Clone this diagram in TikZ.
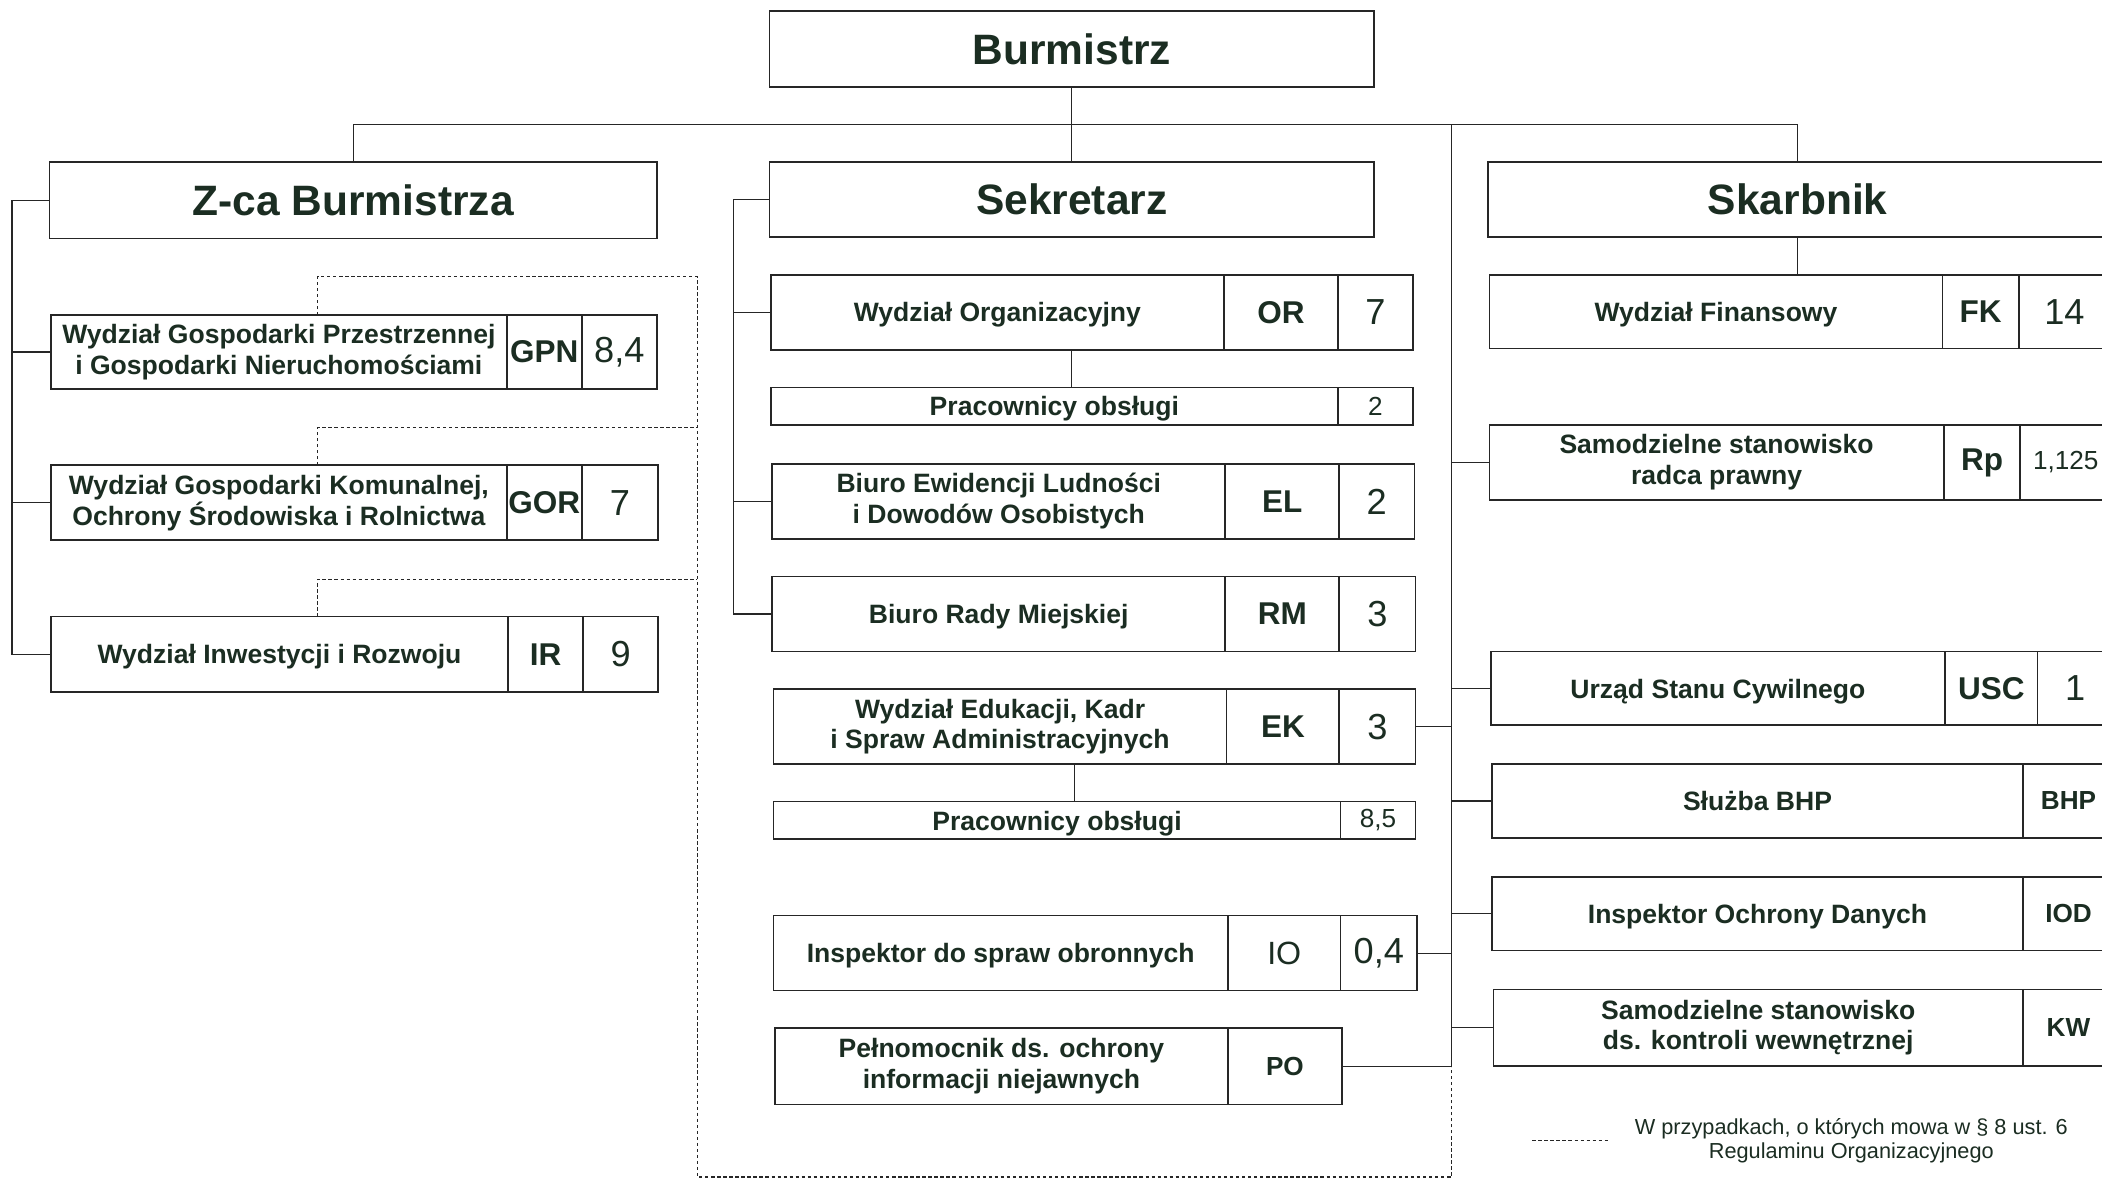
\documentclass[tikz,border=0pt]{standalone}
\usepackage{fontspec}
\setmainfont{Liberation Sans}
\usetikzlibrary{calc}
\definecolor{ink}{HTML}{1B2D22}
\definecolor{rulec}{HTML}{262626}
\begin{document}
\begin{tikzpicture}[x=1pt,y=-1pt,
  box/.style={draw=rulec, line width=1.2pt, inner sep=0pt, outer sep=0pt, anchor=north west, align=center, text=ink},
  head/.style={box, font=\fontsize{31.7}{36}\selectfont\bfseries},
  lbl/.style={box, font=\fontsize{19.8}{23}\selectfont\bfseries},
  one/.style={lbl, text depth=0pt},
  code/.style={box, font=\fontsize{23.5}{26}\selectfont\bfseries},
  rcode/.style={box, font=\fontsize{24}{26}\selectfont},
  scode/.style={box, font=\fontsize{19.5}{22}\selectfont\bfseries},
  num/.style={box, font=\fontsize{27}{30}\selectfont},
  snum/.style={box, font=\fontsize{19.5}{22}\selectfont},
  link/.style={draw=rulec, line width=0.9pt},
  dots/.style={draw=rulec, line width=0.8pt, dash pattern=on 2.5pt off 2pt},
]
\useasboundingbox (0,0) rectangle (1568,879);
\fill[white] (0,0) rectangle (1568,879);
\clip (0,0) rectangle (1568,879);

% ---------- coordinates ----------
\coordinate (hub) at (800,93);
\coordinate (rtop) at (1083,93);
\coordinate (rmid) at (1083,796);
\coordinate (dcol) at (237,0);
\coordinate (d1) at (520,206);
\coordinate (d2) at (520,319);
\coordinate (d3) at (520,432);
\coordinate (dbl) at (520,878);
\coordinate (dbr) at (1083,878);
\coordinate (lg1) at (1143,851);
\coordinate (lg2) at (1200,851);

% ---------- top level ----------
\node[head, minimum width=451pt, minimum height=57pt] (bur) at (574,8) {Burmistrz};
\node[head, minimum width=453pt, minimum height=57pt] (zca) at (37,121) {Z-ca Burmistrza};
\node[head, minimum width=451pt, minimum height=56pt] (sek) at (574,121) {Sekretarz};
\node[head, minimum width=462pt, minimum height=56pt] (skb) at (1110,121) {Skarbnik};

% ---------- Z-ca column ----------
\node[lbl, minimum width=340pt, minimum height=55pt] (gpn) at (38,235) {Wydział Gospodarki Przestrzennej\\i Gospodarki Nieruchomościami};
\node[code, minimum width=56pt, minimum height=55pt] (gpnc) at (gpn.north east) {GPN};
\node[num, minimum width=56pt, minimum height=55pt] (gpnn) at (gpnc.north east) {8,4};

\node[lbl, minimum width=340pt, minimum height=56pt] (gor) at (38,347) {Wydział Gospodarki Komunalnej,\\Ochrony Środowiska i Rolnictwa};
\node[code, minimum width=56pt, minimum height=56pt] (gorc) at (gor.north east) {GOR};
\node[num, minimum width=57pt, minimum height=56pt] (gorn) at (gorc.north east) {7};

\node[one, minimum width=341pt, minimum height=56pt] (ir) at (38,460) {Wydział Inwestycji i Rozwoju};
\node[code, minimum width=56pt, minimum height=56pt] (irc) at (ir.north east) {IR};
\node[num, minimum width=56pt, minimum height=56pt] (irn) at (irc.north east) {9};

% ---------- Sekretarz column ----------
\node[one, minimum width=338pt, minimum height=56pt] (or) at (575,205) {Wydział Organizacyjny};
\node[code, minimum width=85pt, minimum height=56pt] (orc) at (or.north east) {OR};
\node[num, minimum width=56pt, minimum height=56pt] (orn) at (orc.north east) {7};

\node[one, minimum width=423pt, minimum height=28pt] (pra) at (575,289) {Pracownicy obsługi};
\node[snum, minimum width=56pt, minimum height=28pt] (pran) at (pra.north east) {2};

\node[lbl, minimum width=338pt, minimum height=56pt] (el) at (576,346) {Biuro Ewidencji Ludności\\i Dowodów Osobistych};
\node[code, minimum width=85pt, minimum height=56pt] (elc) at (el.north east) {EL};
\node[num, minimum width=56pt, minimum height=56pt] (eln) at (elc.north east) {2};

\node[one, minimum width=338pt, minimum height=56pt] (rm) at (576,430) {Biuro Rady Miejskiej};
\node[code, minimum width=85pt, minimum height=56pt] (rmc) at (rm.north east) {RM};
\node[num, minimum width=57pt, minimum height=56pt] (rmn) at (rmc.north east) {3};

\node[lbl, minimum width=338pt, minimum height=56pt] (ek) at (577,514) {Wydział Edukacji, Kadr\\i Spraw Administracyjnych};
\node[code, minimum width=84pt, minimum height=56pt] (ekc) at (ek.north east) {EK};
\node[num, minimum width=57pt, minimum height=56pt] (ekn) at (ekc.north east) {3};

\node[one, minimum width=423pt, minimum height=28pt] (prb) at (577,598) {Pracownicy obsługi};
\node[snum, minimum width=56pt, minimum height=28pt] (prbn) at (prb.north east) {8,5};

\node[one, minimum width=339pt, minimum height=56pt] (io) at (577,683) {Inspektor do spraw obronnych};
\node[rcode, minimum width=84pt, minimum height=56pt] (ioc) at (io.north east) {IO};
\node[num, minimum width=57pt, minimum height=56pt] (ion) at (ioc.north east) {0,4};

\node[lbl, minimum width=338pt, minimum height=57pt] (po) at (578,767) {Pełnomocnik ds. ochrony\\informacji niejawnych};
\node[scode, minimum width=85pt, minimum height=57pt] (poc) at (po.north east) {PO};

% ---------- Skarbnik column ----------
\node[one, minimum width=338pt, minimum height=55pt] (fk) at (1111,205) {Wydział Finansowy};
\node[code, minimum width=57pt, minimum height=55pt] (fkc) at (fk.north east) {FK};
\node[num, minimum width=68pt, minimum height=55pt] (fkn) at (fkc.north east) {14};

\node[lbl, minimum width=339pt, minimum height=56pt] (rp) at (1111,317) {Samodzielne stanowisko\\radca prawny};
\node[code, minimum width=57pt, minimum height=56pt] (rpc) at (rp.north east) {Rp};
\node[snum, minimum width=68pt, minimum height=56pt] (rpn) at (rpc.north east) {1,125};

\node[one, minimum width=339pt, minimum height=55pt] (usc) at (1112,486) {Urząd Stanu Cywilnego};
\node[code, minimum width=69pt, minimum height=55pt] (uscc) at (usc.north east) {USC};
\node[num, minimum width=56pt, minimum height=55pt] (uscn) at (uscc.north east) {1};

\node[one, minimum width=396pt, minimum height=55pt] (bhp) at (1113,570) {Służba BHP};
\node[scode, minimum width=68pt, minimum height=55pt] (bhpc) at (bhp.north east) {BHP};

\node[one, minimum width=396pt, minimum height=55pt] (iod) at (1113,654) {Inspektor Ochrony Danych};
\node[scode, minimum width=68pt, minimum height=55pt] (iodc) at (iod.north east) {IOD};

\node[lbl, minimum width=395pt, minimum height=57pt] (kw) at (1114,738) {Samodzielne stanowisko\\ds. kontroli wewnętrznej};
\node[scode, minimum width=68pt, minimum height=57pt] (kwc) at (kw.north east) {KW};

% ---------- connectors ----------
\draw[link] (bur.south) -- (sek.north);
\draw[link] (zca.north) |- (hub) -| (skb.north);
\draw[link] (rtop) -- (rmid);
\draw[link] (skb.south) -- (skb.south |- fk.north);

% Z-ca bracket
\draw[link] (zca.west) -- ++(-28,0) |- (ir.west);
\draw[link] (gpn.west) -- ++(-29,0);
\draw[link] (gor.west) -- ++(-29,0);

% Sekretarz bracket
\draw[link] (sek.west) -- ++(-27,0) |- (rm.west);
\draw[link] (or.west) -- ++(-28,0);
\draw[link] (el.west) -- ++(-29,0);
\draw[link] (or.south -| sek.south) -- (pra.north -| sek.south);
\draw[link] ($(ek.south -| sek.south)+(2,0)$) -- ($(prb.north -| sek.south)+(2,0)$);

% right spine
\draw[link] (ekn.east) -- (ekn.east -| rtop);
\draw[link] (ion.east) -- (ion.east -| rtop);
\draw[link] (poc.east) -- (poc.east -| rtop);
\draw[link] (rp.west) -- (rp.west -| rtop);
\draw[link] (usc.west) -- (usc.west -| rtop);
\draw[link] (bhp.west) -- (bhp.west -| rtop);
\draw[link] (iod.west) -- (iod.west -| rtop);
\draw[link] (kw.west) -- (kw.west -| rtop);

% dotted substitution lines
\draw[dots] (gpn.north -| dcol) |- (d1) -- (dbl) -- (dbr) -- (rmid);
\draw[dots] (gor.north -| dcol) |- (d2);
\draw[dots] (ir.north -| dcol) |- (d3);

% legend
\draw[dots] (lg1) -- (lg2);
\node[text=ink, align=center, inner sep=0pt, font=\fontsize{16.2}{18}\selectfont] (legend) at (1381,851) {W przypadkach, o których mowa w § 8 ust. 6\\Regulaminu Organizacyjnego};
\end{tikzpicture}
\end{document}
